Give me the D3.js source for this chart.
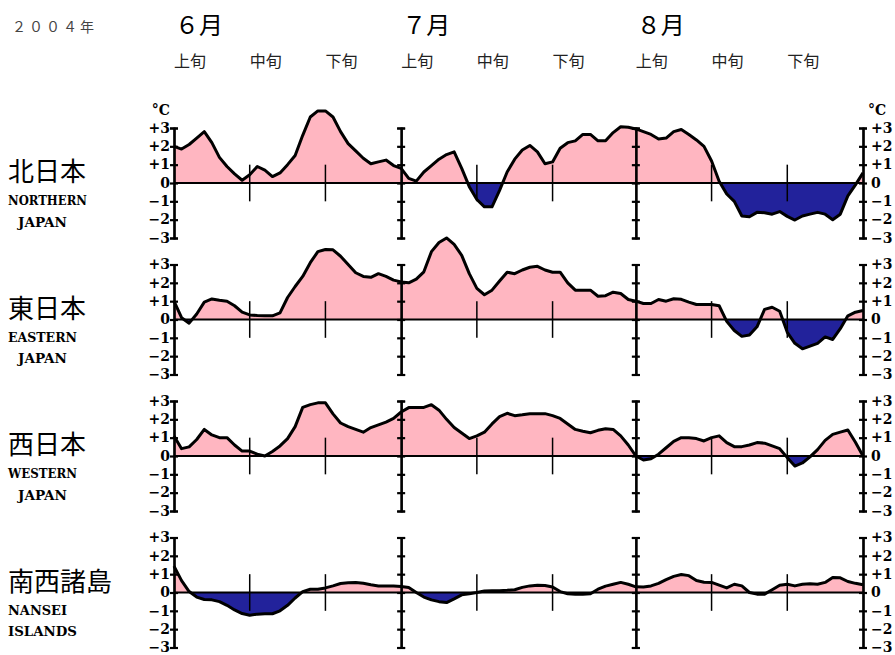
<!DOCTYPE html>
<html>
<head>
<meta charset="utf-8">
<script src="https://cdn.jsdelivr.net/npm/d3@7"></script>
<style>
  body { margin: 0; background: #fff; }
  svg { display: block; }
</style>
</head>
<body>
<div id="chart"></div>
<script>
// day index 0 = June 1, 91 = Aug 31 (2004)
var days = d3.range(92);

var months = ['６月', '７月', '８月'];
var monthStart = [0, 30, 61];
var dekads = ['上旬', '中旬', '下旬', '上旬', '中旬', '下旬', '上旬', '中旬', '下旬'];
var dekadStart = [0, 10, 20, 30, 40, 50, 61, 71, 81];

var regionsJa = ['北日本', '東日本', '西日本', '南西諸島'];
var regionsEn = [['NORTHERN', ' JAPAN'], ['EASTERN', ' JAPAN'], ['WESTERN', ' JAPAN'], ['NANSEI', 'ISLANDS']];

var yTicks = [-3, -2, -1, 0, 1, 2, 3];

// daily temperature anomaly (°C)
var northern = [2.0, 1.85, 2.1, 2.45, 2.8, 2.2, 1.4, 0.9, 0.5, 0.15,
  0.45, 0.9, 0.7, 0.35, 0.55, 1.0, 1.5, 2.6, 3.6, 3.93,
  3.93, 3.6, 2.8, 2.15, 1.75, 1.35, 1.05, 1.15, 1.25, 0.95,
  0.8, 0.25, 0.1, 0.6, 0.95, 1.3, 1.55, 1.7, 0.8, -0.2,
  -0.9, -1.3, -1.3, -0.4, 0.6, 1.3, 1.8, 2.05, 1.7, 1.05,
  1.15, 1.9, 2.2, 2.3, 2.65, 2.65, 2.3, 2.3, 2.75, 3.07,
  3.04, 2.95, 2.8, 2.65, 2.4, 2.45, 2.8, 2.92, 2.65, 2.35,
  2.0, 1.2, 0.1, -0.6, -1.0, -1.8, -1.84, -1.6, -1.62, -1.7,
  -1.56, -1.82, -2.02, -1.8, -1.7, -1.6, -1.7, -2.0, -1.7, -0.7,
  -0.1, 0.55];

var eastern = [1.0, 0.1, -0.2, 0.3, 0.95, 1.12, 1.05, 1.0, 0.75, 0.4,
  0.25, 0.22, 0.2, 0.2, 0.36, 1.2, 1.8, 2.35, 3.1, 3.7,
  3.82, 3.8, 3.45, 3.0, 2.55, 2.35, 2.3, 2.5, 2.35, 2.15,
  2.05, 2.0, 2.2, 2.6, 3.7, 4.2, 4.45, 4.1, 3.5, 2.5,
  1.7, 1.35, 1.6, 2.1, 2.58, 2.5, 2.7, 2.85, 2.9, 2.7,
  2.58, 2.58, 2.0, 1.6, 1.6, 1.6, 1.27, 1.3, 1.49, 1.42,
  1.09, 1.0, 0.87, 0.87, 1.09, 1.0, 1.13, 1.1, 0.95, 0.82,
  0.82, 0.82, 0.75, -0.1, -0.6, -0.92, -0.85, -0.4, 0.55, 0.67,
  0.45, -0.7, -1.3, -1.6, -1.45, -1.3, -0.95, -1.09, -0.5, 0.2,
  0.4, 0.49];

var western = [1.09, 0.4, 0.5, 0.9, 1.45, 1.15, 1.0, 1.0, 0.6, 0.27,
  0.27, 0.1, 0.0, 0.25, 0.55, 0.95, 1.6, 2.65, 2.8, 2.9,
  2.9, 2.3, 1.8, 1.6, 1.45, 1.3, 1.55, 1.7, 1.85, 2.05,
  2.4, 2.64, 2.64, 2.65, 2.8, 2.5, 2.0, 1.55, 1.25, 0.95,
  1.1, 1.3, 1.75, 2.15, 2.33, 2.2, 2.25, 2.31, 2.31, 2.31,
  2.2, 2.05, 1.75, 1.45, 1.35, 1.27, 1.4, 1.49, 1.45, 1.1,
  0.6, 0.0, -0.22, -0.15, 0.1, 0.45, 0.8, 1.0, 1.0, 0.95,
  0.82, 1.0, 1.1, 0.73, 0.51, 0.51, 0.6, 0.73, 0.7, 0.55,
  0.4, -0.09, -0.55, -0.38, -0.05, 0.35, 0.85, 1.18, 1.3, 1.42,
  0.75, 0.0];

var nansei = [1.44, 0.65, 0.05, -0.25, -0.38, -0.4, -0.5, -0.7, -0.95, -1.15,
  -1.24, -1.18, -1.16, -1.16, -1.0, -0.7, -0.3, 0.05, 0.18, 0.18,
  0.25, 0.36, 0.49, 0.53, 0.55, 0.5, 0.42, 0.36, 0.36, 0.36,
  0.33, 0.27, 0.0, -0.25, -0.4, -0.5, -0.55, -0.35, -0.13, -0.07,
  0.0, 0.08, 0.1, 0.1, 0.12, 0.15, 0.28, 0.36, 0.4, 0.38,
  0.3, 0.05, -0.07, -0.09, -0.09, -0.07, 0.18, 0.35, 0.45, 0.55,
  0.45, 0.31, 0.3, 0.36, 0.5, 0.7, 0.88, 0.98, 0.92, 0.65,
  0.56, 0.55, 0.4, 0.25, 0.45, 0.36, 0.0, -0.09, -0.09, 0.15,
  0.4, 0.45, 0.36, 0.45, 0.48, 0.45, 0.55, 0.82, 0.8, 0.6,
  0.5, 0.42];

var series = [northern, eastern, western, nansei];

var width = 895;
var height = 655;
var left = 174;
var right = 863;
var firstZero = 183;
var panelStep = 136.5;
var halfHeight = 55;

var pink = '#ffb6c1';
var navy = '#22229b';
var serif = '"DejaVu Serif", "Liberation Serif", serif';
var cjk = '"Noto Sans CJK JP", sans-serif';

var svg = d3.select('#chart')
    .append('svg')
    .attr('width', width)
    .attr('height', height);

var x = d3.scaleLinear()
    .domain([0, days.length - 1])
    .range([left, right]);

// header
svg.append('text')
    .attr('x', 12)
    .attr('y', 32)
    .attr('font-family', cjk)
    .attr('font-size', 14)
    .attr('letter-spacing', 3)
    .attr('fill', '#444')
    .text('２００４年');

svg.append('g').selectAll('text')
    .data(months)
    .enter()
    .append('text')
    .attr('x', function(d, i) { return x(monthStart[i]) + 1; })
    .attr('y', 34)
    .attr('font-family', cjk)
    .attr('font-size', 24)
    .text(function(d) { return d; });

svg.append('g').selectAll('text')
    .data(dekads)
    .enter()
    .append('text')
    .attr('x', function(d, i) { return x(dekadStart[i]); })
    .attr('y', 67)
    .attr('font-family', cjk)
    .attr('font-size', 16)
    .attr('fill', '#222')
    .text(function(d) { return d; });

// °C labels
svg.append('text')
    .attr('x', 170)
    .attr('y', 115)
    .attr('text-anchor', 'end')
    .attr('font-family', serif)
    .attr('font-weight', 'bold')
    .attr('font-size', 14)
    .text('°C');
svg.append('text')
    .attr('x', 868)
    .attr('y', 115)
    .attr('font-family', serif)
    .attr('font-weight', 'bold')
    .attr('font-size', 14)
    .text('°C');

function fmt(d) {
  if (d > 0) return '+' + d;
  if (d < 0) return '\u2212' + Math.abs(d);
  return '0';
}

series.forEach(function(values, p) {
  var zero = firstZero + p * panelStep;
  var y = d3.scaleLinear()
      .domain([-3, 3])
      .range([zero + halfHeight, zero - halfHeight]);

  var g = svg.append('g').attr('class', 'panel');

  // clip regions above and below zero
  var clipUp = 'clip-up-' + p;
  var clipDown = 'clip-down-' + p;
  var defs = g.append('defs');
  defs.append('clipPath').attr('id', clipUp)
      .append('rect')
      .attr('x', 0).attr('y', 0)
      .attr('width', width).attr('height', y(0));
  defs.append('clipPath').attr('id', clipDown)
      .append('rect')
      .attr('x', 0).attr('y', y(0))
      .attr('width', width).attr('height', height);

  var area = d3.area()
      .x(function(d, i) { return x(days[i]); })
      .y0(y(0))
      .y1(function(d) { return y(d); });

  g.append('path')
      .datum(values)
      .attr('d', area)
      .attr('fill', pink)
      .attr('clip-path', 'url(#' + clipUp + ')');
  g.append('path')
      .datum(values)
      .attr('d', area)
      .attr('fill', navy)
      .attr('clip-path', 'url(#' + clipDown + ')');

  // zero line
  g.append('line')
      .attr('x1', x(0)).attr('x2', x(91))
      .attr('y1', y(0)).attr('y2', y(0))
      .attr('stroke', '#000')
      .attr('stroke-width', 2);

  // dekad ticks (+1 to -1)
  g.append('g').selectAll('line')
      .data(dekadStart.filter(function(d) { return monthStart.indexOf(d) < 0; }))
      .enter()
      .append('line')
      .attr('x1', function(d) { return x(d); })
      .attr('x2', function(d) { return x(d); })
      .attr('y1', y(1))
      .attr('y2', y(-1))
      .attr('stroke', '#000')
      .attr('stroke-width', 1.5);

  // beams at month edges and chart ends
  [0, 30, 61, 91].forEach(function(day) {
    var beamL = d3.axisLeft(y).tickValues(yTicks).tickSize(4).tickSizeOuter(4).tickFormat('');
    var beamR = d3.axisRight(y).tickValues(yTicks).tickSize(4).tickSizeOuter(4).tickFormat('');
    [beamL, beamR].forEach(function(ax) {
      g.append('g')
          .attr('transform', 'translate(' + x(day) + ',0)')
          .call(ax)
          .call(function(s) {
            s.selectAll('path, line').attr('stroke', '#000').attr('stroke-width', 2.2);
          });
    });
  });

  // data line
  g.append('path')
      .datum(values)
      .attr('d', d3.line()
          .x(function(d, i) { return x(days[i]); })
          .y(function(d) { return y(d); }))
      .attr('fill', 'none')
      .attr('stroke', '#000')
      .attr('stroke-width', 3)
      .attr('stroke-linejoin', 'round');

  // tick labels
  var labL = d3.axisLeft(y).tickValues(yTicks).tickSize(0).tickPadding(4).tickFormat(fmt);
  var labR = d3.axisRight(y).tickValues(yTicks).tickSize(0).tickPadding(8).tickFormat(fmt);
  [[labL, x(0)], [labR, x(91)]].forEach(function(a) {
    g.append('g')
        .attr('transform', 'translate(' + a[1] + ',0)')
        .call(a[0])
        .call(function(s) {
          s.select('.domain').remove();
          s.selectAll('text')
              .attr('font-family', serif)
              .attr('font-weight', 'bold')
              .attr('font-size', 14)
              .attr('dy', '0.3em')
              .attr('fill', '#000');
        });
  });

  // region labels
  g.append('text')
      .attr('x', 8)
      .attr('y', zero - 2)
      .attr('font-family', cjk)
      .attr('font-size', 26)
      .text(regionsJa[p]);

  g.append('g').selectAll('text')
      .data(regionsEn[p])
      .enter()
      .append('text')
      .attr('x', function(d) { return 8 + 10 * (d.length - d.trim().length); })
      .attr('y', function(d, i) { return zero + 22 + i * 21.5; })
      .attr('font-family', serif)
      .attr('font-weight', 'bold')
      .attr('font-size', 12)
      .attr('textLength', function(d) { return d.trim().length * 10 - 1; })
      .attr('lengthAdjust', 'spacingAndGlyphs')
      .text(function(d) { return d.trim(); });
});
</script>
</body>
</html>
